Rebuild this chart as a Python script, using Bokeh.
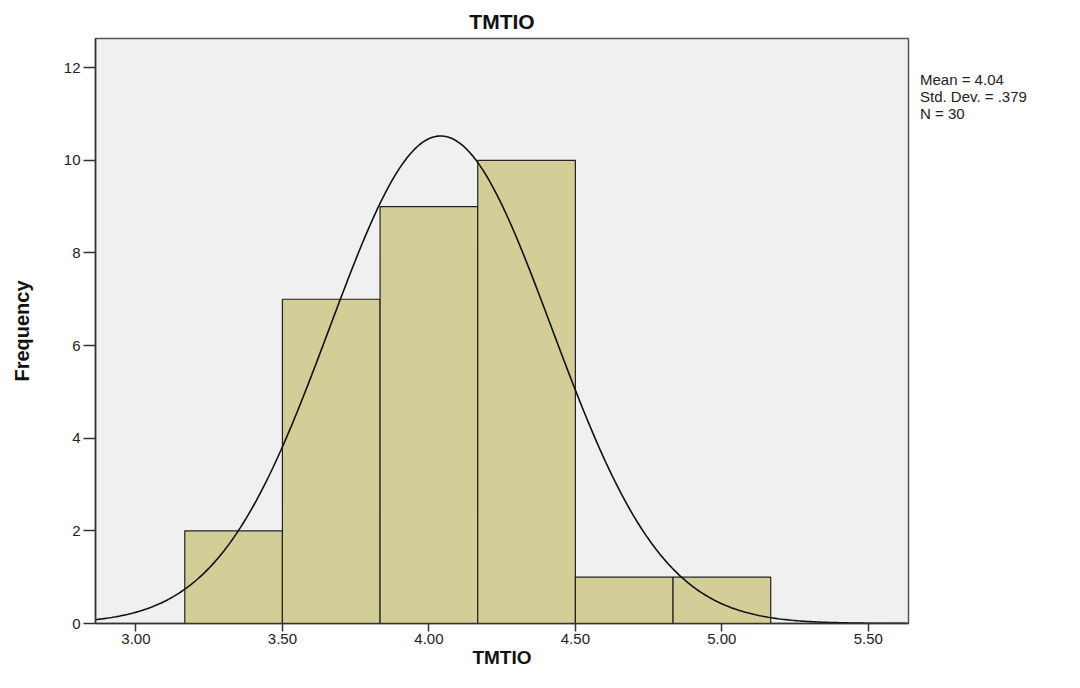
import numpy as np
from bokeh.plotting import figure
from bokeh.models import Range1d, FixedTicker, Legend, LegendItem
from bokeh.embed import file_html
from bokeh.resources import INLINE

# data
bin_left = [3.1667, 3.5, 3.8333, 4.1667, 4.5, 4.8333]
bin_right = [3.5, 3.8333, 4.1667, 4.5, 4.8333, 5.1667]
counts = [2, 7, 9, 10, 1, 1]
mean = 4.04
std = 0.379
n = 30
x_ticks = [3.0, 3.5, 4.0, 4.5, 5.0, 5.5]
y_ticks = [0, 2, 4, 6, 8, 10, 12]
stats_lines = ["Mean = 4.04", "Std. Dev. = .379", "N = 30"]

x0, x1 = 2.862, 5.637
p = figure(frame_width=813, frame_height=585, output_backend="svg", toolbar_location=None,
           x_range=Range1d(x0, x1), y_range=Range1d(0, 12.63),
           min_border_left=95, min_border_right=156, min_border_top=38, min_border_bottom=49,
           title="TMTIO")
p.title.align = "center"
p.title.text_font = "Liberation Sans"
p.title.text_font_size = "21px"
p.title.text_font_style = "bold"
p.title.text_color = "#111111"
p.title.offset = 0
p.title.standoff = 12

p.background_fill_color = "#f0f0f0"
p.border_fill_color = "white"
p.outline_line_color = "#555555"
p.outline_line_width = 1.5
p.grid.visible = False

p.quad(left=bin_left, right=bin_right, bottom=0, top=counts,
       fill_color="#d3ce98", line_color="#222222", line_width=1.2)

bw = bin_right[0] - bin_left[0]
xs = np.linspace(x0, x1, 400)
ys = n * bw * np.exp(-0.5 * ((xs - mean) / std) ** 2) / (std * np.sqrt(2 * np.pi))
p.line(xs, ys, line_color="#111111", line_width=1.6)

for ax in (p.xaxis, p.yaxis):
    ax.axis_line_color = "#333333"
    ax.axis_line_width = 1.5
    ax.major_tick_line_color = "#333333"
    ax.major_tick_line_width = 1.5
    ax.minor_tick_line_color = None
    ax.major_tick_in = 0
    ax.major_label_text_font = "Liberation Sans"
    ax.major_label_text_font_size = "15px"
    ax.major_label_text_color = "#222222"
    ax.axis_label_text_font_style = "bold"
    ax.axis_label_text_color = "#111111"
    ax.axis_label_text_font = "Liberation Sans"

p.xaxis.ticker = FixedTicker(ticks=x_ticks)
p.xaxis.major_label_overrides = {t: f"{t:.2f}" for t in x_ticks}
p.xaxis.major_tick_out = 8
p.xaxis.major_label_standoff = 2
p.xaxis.axis_label = "TMTIO"
p.xaxis.axis_label_text_font_size = "19px"
p.xaxis.axis_label_standoff = 0

p.yaxis.ticker = FixedTicker(ticks=y_ticks)
p.yaxis.major_tick_out = 12
p.yaxis.major_label_standoff = 3
p.yaxis.axis_label = "Frequency"
p.yaxis.axis_label_text_font_size = "20px"
p.yaxis.axis_label_standoff = 28

# statistics box on the right, outside the frame
dummy = p.line(x=[], y=[], line_alpha=0)
legend = Legend(items=[LegendItem(label=s, renderers=[dummy]) for s in stats_lines],
                location="top_left", orientation="vertical")
legend.title = " "
legend.title_text_font_size = "14px"
legend.title_standoff = 5
legend.glyph_width = 0
legend.glyph_height = 14
legend.label_height = 14
legend.label_standoff = 0
legend.spacing = 0
legend.padding = 0
legend.margin = 12
legend.border_line_color = None
legend.background_fill_alpha = 0
legend.label_text_font = "Liberation Sans"
legend.label_text_font_size = "15px"
legend.label_text_color = "#222222"
legend.inactive_fill_alpha = 0
p.add_layout(legend, "right")

open("out.html", "w").write(file_html(p, INLINE))
